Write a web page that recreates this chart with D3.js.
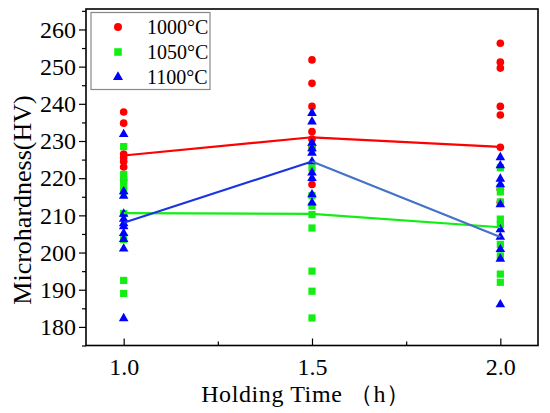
<!DOCTYPE html>
<html><head><meta charset="utf-8">
<script src="https://cdn.jsdelivr.net/npm/d3@7"></script>
<style>body{margin:0;background:#fff}svg{display:block}</style>
</head><body>
<svg id="c" width="550" height="413"></svg>
<script>
const times = [1.0, 1.5, 2.0];
const seriesNames = ["1000°C", "1050°C", "1100°C"];
// measured points per holding time (1.0, 1.5, 2.0 h)
const hv1000 = [
  [237.8, 234.8, 226.5, 225.5, 224.5, 223.0, 219.5],
  [251.8, 245.5, 239.3, 232.5, 230.5, 228.5, 218.3],
  [256.3, 251.2, 249.6, 239.3, 237.0, 228.3, 217.0, 213.5]
];
const hv1050 = [
  [228.5, 221.0, 219.5, 218.0, 216.5, 210.5, 203.5, 192.5, 189.0],
  [228.0, 222.8, 215.3, 212.5, 210.2, 206.6, 195.0, 189.6, 182.4],
  [222.8, 217.5, 216.3, 213.6, 209.0, 207.5, 202.2, 199.1, 194.2, 192.0]
];
const hv1100 = [
  [231.8, 216.4, 215.2, 210.4, 209.0, 207.8, 207.0, 205.2, 203.6, 201.0, 182.3],
  [237.5, 235.2, 229.5, 228.0, 226.8, 224.5, 221.5, 220.0, 215.6, 213.4],
  [225.6, 223.4, 219.8, 218.3, 212.9, 206.2, 204.2, 200.9, 198.3, 186.0]
];
const mean1000 = [226.1, 231.0, 228.4];
const mean1050 = [210.6, 210.4, 206.8];
const mean1100 = [208.0, 224.5, 204.2];
const yTicks = [180, 190, 200, 210, 220, 230, 240, 250, 260];
const xTicks = [1.0, 1.5, 2.0];

const svg = d3.select("#c");
const L = 86, R = 538, T = 9, B = 345.5;
const x = d3.scaleLinear().domain([0.9, 2.1]).range([L, R]);
const y = d3.scaleLinear().domain([175, 265.5]).range([B, T]);

const colors = ["#ff0000", "#11ee11", "#0000ff"];
const shapes = [d3.symbolCircle, d3.symbolSquare, d3.symbolTriangle];
const sizes = [46, 52, 40];
const allSeries = [hv1000, hv1050, hv1100];
const means = [mean1000, mean1050, mean1100];
const font = "'Liberation Serif', 'Times New Roman', serif";

// axes
const yAxis = d3.axisLeft(y).tickValues(yTicks).tickSize(7).tickPadding(3).tickFormat(d3.format("d"));
const yMinor = d3.axisLeft(y).tickValues(d3.range(175, 266, 5).filter(v => v % 10 !== 0)).tickSize(4).tickFormat("");
const xAxis = d3.axisBottom(x).tickValues(xTicks).tickSize(-7).tickPadding(12).tickFormat(d3.format(".1f"));
const xMinor = d3.axisBottom(x).tickValues([1.25, 1.75]).tickSize(-4).tickFormat("");

const gy = svg.append("g").attr("transform", `translate(${L},0)`).call(yAxis);
svg.append("g").attr("transform", `translate(${L},0)`).call(yMinor);
const gx = svg.append("g").attr("transform", `translate(0,${B})`).call(xAxis);
svg.append("g").attr("transform", `translate(0,${B})`).call(xMinor);
svg.selectAll(".domain").remove();
svg.selectAll(".tick line").attr("stroke", "#000").attr("stroke-width", 1.2);
gy.selectAll("text").attr("font-family", font).attr("font-size", 24).attr("fill", "#000");
gx.selectAll("text").attr("font-family", font).attr("font-size", 24).attr("fill", "#000").attr("dy", "0.71em");

// scatter
allSeries.forEach((ser, si) => {
  const pts = [];
  ser.forEach((vals, ti) => vals.forEach(v => pts.push({t: times[ti], v})));
  svg.append("g").selectAll("path").data(pts).join("path")
    .attr("d", d3.symbol().type(shapes[si]).size(sizes[si]))
    .attr("transform", d => `translate(${x(d.t)},${y(d.v)})`)
    .attr("fill", colors[si]);
});

// mean lines
const line = d3.line().x(d => x(d.t)).y(d => y(d.v));
const lineColors = [["#ff0000", "#ff0000"], ["#11ee11", "#11ee11"], ["#1a35e0", "#4472c4"]];
means.forEach((m, si) => {
  const pts = m.map((v, i) => ({t: times[i], v}));
  for (let i = 0; i < pts.length - 1; i++) {
    svg.append("path").attr("d", line([pts[i], pts[i + 1]]))
      .attr("fill", "none").attr("stroke", lineColors[si][i]).attr("stroke-width", 2.2);
  }
});

// frame
svg.append("rect").attr("x", L).attr("y", T).attr("width", R - L).attr("height", B - T)
  .attr("fill", "none").attr("stroke", "#000").attr("stroke-width", 1.6);

// legend
const lg = svg.append("g");
lg.append("rect").attr("x", 91).attr("y", 12.5).attr("width", 119).attr("height", 77)
  .attr("fill", "#fff").attr("stroke", "#888").attr("stroke-width", 1.2);
seriesNames.forEach((n, i) => {
  const yy = 27 + i * 25;
  lg.append("path").attr("d", d3.symbol().type(shapes[i]).size(sizes[i] * 1.1))
    .attr("transform", `translate(118,${yy})`).attr("fill", colors[i]);
  lg.append("text").attr("x", 147).attr("y", yy).attr("dy", "0.35em")
    .attr("font-family", font).attr("font-size", 20).text(n);
});

// titles
svg.append("text").attr("transform", "translate(31,200) rotate(-90)").attr("text-anchor", "middle")
  .attr("font-family", font).attr("font-size", 26).text("Microhardness(HV)");
svg.append("text").attr("x", 306).attr("y", 402).attr("text-anchor", "middle")
  .attr("font-family", font).attr("font-size", 24).attr("letter-spacing", 0.6).text("Holding Time （h）");
</script>
</body></html>
